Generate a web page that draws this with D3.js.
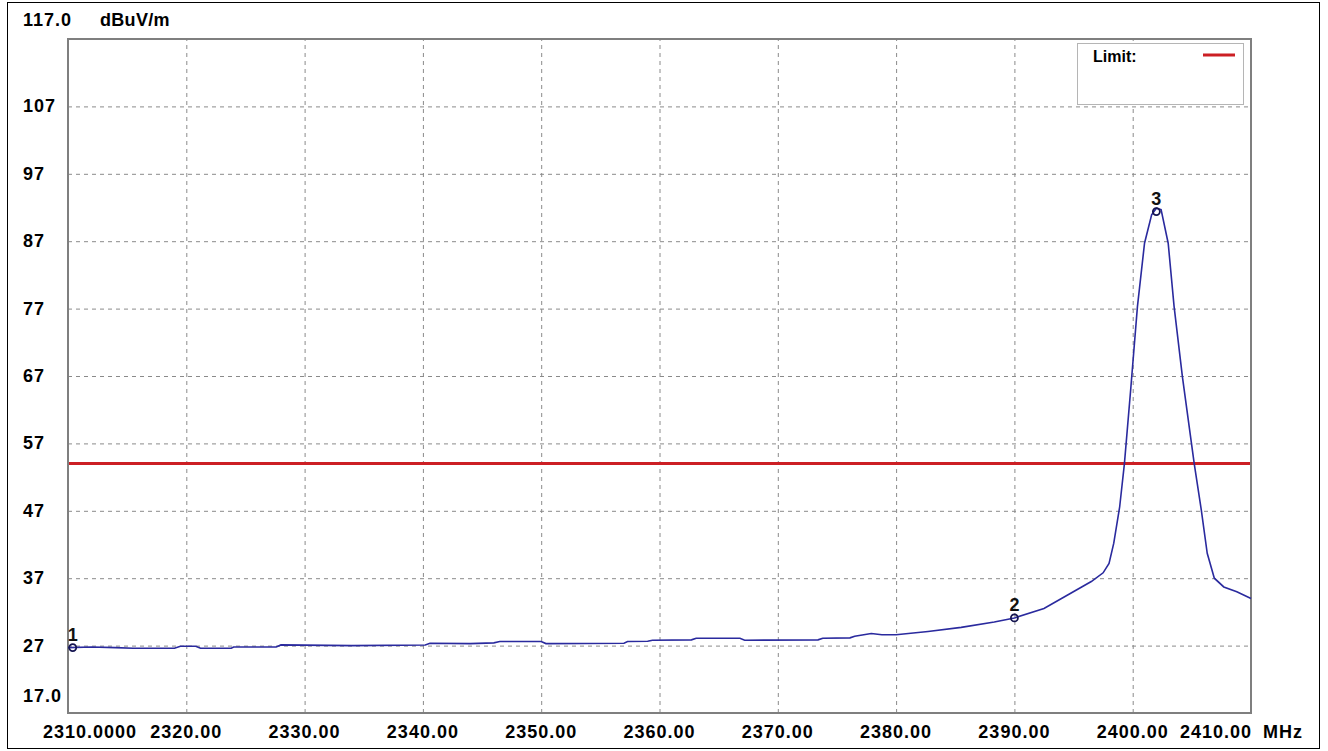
<!DOCTYPE html>
<html>
<head>
<meta charset="utf-8">
<script src="https://cdn.jsdelivr.net/npm/d3@7"></script>
<style>
  html, body { margin: 0; padding: 0; background: #fff; }
  svg { display: block; }
  text { font-family: "Liberation Sans", Arial, sans-serif; }
</style>
</head>
<body>
<svg id="chart" width="1328" height="751"></svg>
<script>
// ---- data ----
const freqMHz = [2310.0, 2312.0, 2314.0, 2315.5, 2319.0, 2319.5, 2320.8, 2321.2, 2323.8, 2324.0,
  2327.6, 2328.0, 2334.0, 2340.2, 2340.6, 2344.0, 2346.0, 2346.5, 2350.0, 2350.4,
  2357.0, 2357.3, 2359.0, 2359.4, 2362.7, 2363.1, 2366.8, 2367.2, 2373.4, 2373.8,
  2376.1, 2376.5, 2377.9, 2378.8, 2380.0, 2382.7, 2385.5, 2388.3, 2390.0, 2392.5,
  2394.5, 2396.5, 2397.5, 2398.0, 2398.4, 2398.9, 2399.3, 2399.85, 2400.4, 2401.0,
  2401.6, 2402.0, 2402.4, 2403.0, 2403.5, 2404.2, 2405.2, 2405.8, 2406.3, 2406.9,
  2407.7, 2408.8, 2410.0];
const levelDb = [26.7, 26.8, 26.7, 26.6, 26.6, 26.9, 26.9, 26.6, 26.6, 26.8,
  26.8, 27.1, 27.0, 27.1, 27.35, 27.3, 27.4, 27.6, 27.6, 27.3,
  27.35, 27.6, 27.65, 27.8, 27.85, 28.1, 28.1, 27.8, 27.85, 28.1,
  28.15, 28.4, 28.8, 28.6, 28.6, 29.1, 29.7, 30.5, 31.1, 32.5,
  34.5, 36.5, 37.8, 39.2, 42.2, 47.6, 54.0, 65.4, 77.3, 86.7,
  90.9, 91.9, 91.7, 86.7, 77.3, 66.9, 54.0, 47.1, 40.7, 37.0,
  35.7, 35.0, 34.0];
const limitDb = 54;
const markerIds = ["1", "2", "3"];
const markerFreq = [2310.4, 2390.0, 2402.0];
const markerLevel = [26.7, 31.1, 91.4];
const xTicks = [2310, 2320, 2330, 2340, 2350, 2360, 2370, 2380, 2390, 2400, 2410];
const xTickLabels = ["2310.0000", "2320.00", "2330.00", "2340.00", "2350.00", "2360.00",
  "2370.00", "2380.00", "2390.00", "2400.00", "2410.00"];
const yTicks = [17, 27, 37, 47, 57, 67, 77, 87, 97, 107, 117];
const yTickLabels = ["17.0", "27", "37", "47", "57", "67", "77", "87", "97", "107", "117.0"];
const yUnit = "dBuV/m";
const xUnit = "MHz";
const legendLabel = "Limit:";

// ---- layout ----
const svg = d3.select("#chart");
const P = { left: 68, top: 39, right: 1251, bottom: 713 };
const x = d3.scaleLinear().domain([2310, 2410]).range([P.left, P.right]);
const y = d3.scaleLinear().domain([17, 117]).range([P.bottom, P.top]);

// outer frame
svg.append("rect").attr("x", 7.5).attr("y", 2.5).attr("width", 1312).attr("height", 746)
  .attr("fill", "none").attr("stroke", "#000").attr("stroke-width", 1);

// grid via axes
const gx = svg.append("g").attr("transform", `translate(0,${P.bottom})`)
  .call(d3.axisBottom(x).tickValues(xTicks.slice(1, -1)).tickSize(-(P.bottom - P.top)).tickFormat(""));
gx.select(".domain").remove();
gx.selectAll(".tick line").attr("stroke", "#8a8a8a").attr("stroke-dasharray", "4,4").attr("stroke-width", 1);

const gy = svg.append("g").attr("transform", `translate(${P.left},0)`)
  .call(d3.axisLeft(y).tickValues(yTicks.slice(1, -1)).tickSize(-(P.right - P.left)).tickFormat(""));
gy.select(".domain").remove();
gy.selectAll(".tick line").attr("stroke", "#8a8a8a").attr("stroke-dasharray", "4,4").attr("stroke-width", 1);

// plot border
svg.append("rect").attr("x", P.left).attr("y", P.top)
  .attr("width", P.right - P.left).attr("height", P.bottom - P.top)
  .attr("fill", "none").attr("stroke", "#7f7f7f").attr("stroke-width", 2);

// y labels
const labelStyle = s => s.attr("font-weight", "bold").attr("font-size", 18).attr("fill", "#000")
  .attr("letter-spacing", 1);
yTicks.forEach((v, i) => {
  let yy = y(v) + 6;
  if (v === 117) yy = 26;
  if (v === 17) yy = 702;
  svg.append("text").attr("x", 23).attr("y", yy).text(yTickLabels[i]).call(labelStyle);
});
svg.append("text").attr("x", 100).attr("y", 26).text(yUnit).call(labelStyle).attr("letter-spacing", 0.3);

// x labels
xTicks.forEach((v, i) => {
  const t = svg.append("text").attr("y", 738).text(xTickLabels[i]).call(labelStyle);
  if (i === 0) t.attr("x", 43).attr("text-anchor", "start");
  else if (i === xTicks.length - 1) t.attr("x", P.right + 1).attr("text-anchor", "end");
  else t.attr("x", x(v)).attr("text-anchor", "middle");
});
svg.append("text").attr("x", 1263).attr("y", 738).text(xUnit).call(labelStyle);

// limit line
svg.append("line").attr("x1", P.left + 1).attr("x2", P.right - 1)
  .attr("y1", y(limitDb)).attr("y2", y(limitDb))
  .attr("stroke", "#cc1f24").attr("stroke-width", 3);

// trace
const line = d3.line().x(d => x(d[0])).y(d => y(d[1]));
svg.append("path").datum(freqMHz.map((f, i) => [f, levelDb[i]]))
  .attr("d", line).attr("fill", "none").attr("stroke", "#2a2a9e").attr("stroke-width", 1.6);

// markers
markerIds.forEach((id, i) => {
  const cx = x(markerFreq[i]), cy = y(markerLevel[i]);
  svg.append("circle").attr("cx", cx).attr("cy", cy).attr("r", 3.5)
    .attr("fill", "none").attr("stroke", "#141450").attr("stroke-width", 1.8);
  svg.append("text").attr("x", cx).attr("y", cy - 7).attr("text-anchor", "middle")
    .attr("font-size", 18).attr("font-weight", "bold").attr("fill", "#111").text(id);
});

// legend
svg.append("rect").attr("x", 1077.5).attr("y", 43.5).attr("width", 166).attr("height", 61)
  .attr("fill", "#fff").attr("stroke", "#b5b5b5").attr("stroke-width", 1);
svg.append("text").attr("x", 1093).attr("y", 62).text(legendLabel)
  .attr("font-weight", "bold").attr("font-size", 16).attr("fill", "#000");
svg.append("line").attr("x1", 1203).attr("x2", 1235).attr("y1", 55).attr("y2", 55)
  .attr("stroke", "#cc1f24").attr("stroke-width", 3);
</script>
</body>
</html>
